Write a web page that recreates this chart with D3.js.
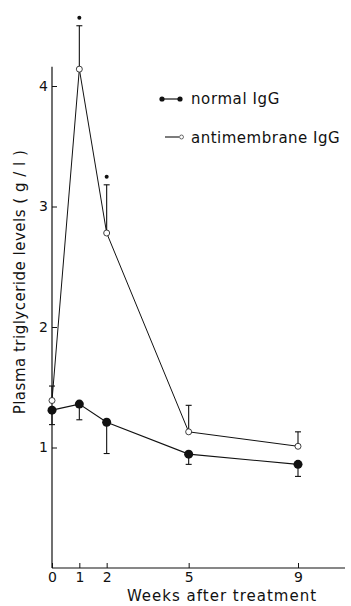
<!DOCTYPE html>
<html><head><meta charset="utf-8">
<script src="https://cdn.jsdelivr.net/npm/d3@7"></script>
<style>body{margin:0;background:#fff}svg{display:block}</style>
</head><body>
<script>
const weeks = [0, 1, 2, 5, 9];
const normalMean = [1.31, 1.36, 1.21, 0.945, 0.86];
const normalSE   = [0.12, 0.13, 0.26, 0.085, 0.10];
const antiMean   = [1.39, 4.14, 2.78, 1.13, 1.01];
const antiSE     = [0.12, 0.36, 0.40, 0.22, 0.12];
const signif     = [false, true, true, false, false];
const xTicks = [0, 1, 2, 5, 9];
const yTicks = [1, 2, 3, 4];

const W = 351, H = 606;
const svg = d3.select("body").append("svg").attr("width", W).attr("height", H);
const x = d3.scaleLinear().domain([0, 9]).range([52, 298]);
const y = d3.scaleLinear().domain([0, 4]).range([568, 86]);
const ink = "#111";
const font = "DejaVu Sans, sans-serif";

// axes
const xAxis = d3.axisBottom(x).tickValues(xTicks).tickFormat(d3.format("d")).tickSizeInner(-5).tickSizeOuter(0).tickPadding(4);
const gx = svg.append("g").attr("transform", `translate(0,${y(0)})`).call(xAxis);
gx.select(".domain").remove();
gx.append("line").attr("x1", x(0)).attr("x2", 345).attr("y1", 0).attr("y2", 0).attr("stroke", ink).attr("stroke-width", 1.2);
gx.selectAll("text").attr("font-family", font).attr("font-size", 14).attr("fill", ink).attr("dy", "0.72em");
gx.selectAll(".tick line").attr("stroke", ink);

const yAxis = d3.axisLeft(y).tickValues(yTicks).tickFormat(d3.format("d")).tickSizeInner(-5).tickSizeOuter(0).tickPadding(4);
const gy = svg.append("g").attr("transform", `translate(${x(0)},0)`).call(yAxis);
gy.select(".domain").remove();
gy.append("line").attr("x1", 0).attr("x2", 0).attr("y1", y(0)).attr("y2", y(4.16)).attr("stroke", ink).attr("stroke-width", 1.2);
gy.selectAll("text").attr("font-family", font).attr("font-size", 14).attr("fill", ink);
gy.selectAll(".tick line").attr("stroke", ink);

// axis titles
svg.append("text").attr("x", 222).attr("y", 601).attr("text-anchor", "middle")
  .attr("font-family", font).attr("font-size", 15).attr("letter-spacing", 1.0).attr("fill", ink)
  .text("Weeks after treatment");
svg.append("text").attr("transform", "translate(25,282) rotate(-90)").attr("text-anchor", "middle")
  .attr("font-family", font).attr("font-size", 15).attr("letter-spacing", 0.5).attr("fill", ink)
  .text("Plasma triglyceride levels ( g / l )");

const line = d3.line().x(d => x(d[0])).y(d => y(d[1]));
const antiData = weeks.map((w, i) => [w, antiMean[i]]);
const normData = weeks.map((w, i) => [w, normalMean[i]]);

// error bars: normal downward, anti upward
function errBars(data, se, dir) {
  const g = svg.append("g").attr("stroke", ink).attr("stroke-width", 1.1);
  data.forEach((d, i) => {
    const y0 = y(d[1]), y1 = y(d[1] + dir * se[i]);
    g.append("line").attr("x1", x(d[0])).attr("x2", x(d[0])).attr("y1", y0).attr("y2", y1);
    g.append("line").attr("x1", x(d[0]) - 3).attr("x2", x(d[0]) + 3).attr("y1", y1).attr("y2", y1);
  });
}
errBars(antiData, antiSE, 1);
errBars(normData, normalSE, -1);

svg.append("path").datum(antiData).attr("d", line).attr("fill", "none").attr("stroke", ink).attr("stroke-width", 1);
svg.append("path").datum(normData).attr("d", line).attr("fill", "none").attr("stroke", ink).attr("stroke-width", 1.1);

svg.append("g").selectAll("circle").data(antiData).join("circle")
  .attr("cx", d => x(d[0])).attr("cy", d => y(d[1])).attr("r", 3)
  .attr("fill", "#fff").attr("stroke", ink).attr("stroke-width", 0.8);
svg.append("g").selectAll("circle").data(normData).join("circle")
  .attr("cx", d => x(d[0])).attr("cy", d => y(d[1])).attr("r", 4.5).attr("fill", ink);

// significance markers
const sigIdx = weeks.map((w, i) => i).filter(i => signif[i]);
svg.append("g").selectAll("circle").data(sigIdx).join("circle")
  .attr("cx", i => x(weeks[i])).attr("cy", i => y(antiMean[i] + antiSE[i]) - 8).attr("r", 2).attr("fill", ink);

// legend
const lg = svg.append("g");
lg.append("line").attr("x1", 162).attr("x2", 180).attr("y1", 99).attr("y2", 99).attr("stroke", ink).attr("stroke-width", 1.2);
lg.append("circle").attr("cx", 162).attr("cy", 99).attr("r", 2.6).attr("fill", ink);
lg.append("circle").attr("cx", 180).attr("cy", 99).attr("r", 2.6).attr("fill", ink);
lg.append("text").attr("x", 191).attr("y", 104).attr("font-family", font).attr("font-size", 15).attr("letter-spacing", 0.6).attr("fill", ink).text("normal  IgG");
lg.append("line").attr("x1", 165).attr("x2", 179).attr("y1", 137).attr("y2", 137).attr("stroke", ink).attr("stroke-width", 1.1);
lg.append("circle").attr("cx", 181.5).attr("cy", 137).attr("r", 2).attr("fill", "#fff").attr("stroke", ink).attr("stroke-width", 0.6);
lg.append("text").attr("x", 191).attr("y", 143).attr("font-family", font).attr("font-size", 15).attr("letter-spacing", 0.5).attr("fill", ink).text("antimembrane  IgG");
</script>
</body></html>
